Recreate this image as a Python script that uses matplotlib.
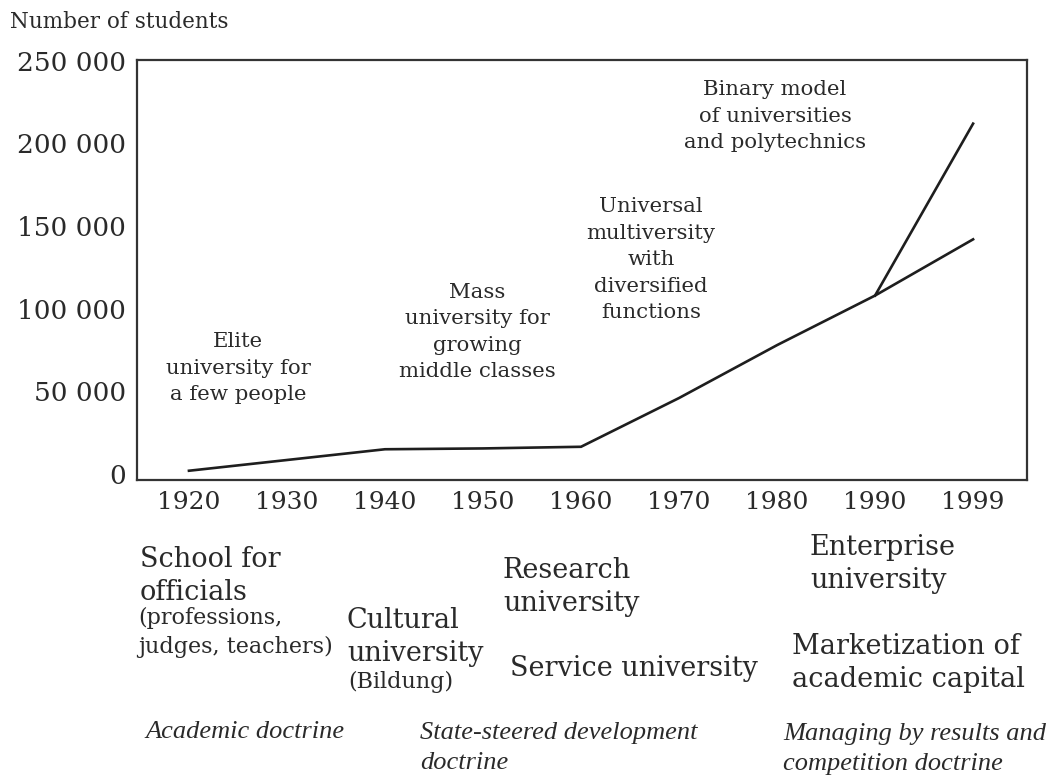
import matplotlib
matplotlib.use('Agg')
from matplotlib import pyplot as plt

plt.rcParams['font.family'] = 'DejaVu Serif'

# data
years = ['1920', '1930', '1940', '1950', '1960', '1970', '1980', '1990', '1999']
students = [2000, 8500, 15000, 15500, 16500, 46000, 78000, 108000, 142000]
binary_years = ['1990', '1999']
binary_students = [108000, 212000]
y_ticks = [0, 50000, 100000, 150000, 200000, 250000]
y_labels = ['0', '50 000', '100 000', '150 000', '200 000', '250 000']

phase_labels = [
    'Elite\nuniversity for\na few people',
    'Mass\nuniversity for\ngrowing\nmiddle classes',
    'Universal\nmultiversity\nwith\ndiversified\nfunctions',
    'Binary model\nof universities\nand polytechnics',
]

W, H = 1054, 776
INK = '#2a2a2a'


def px(x, y):
    return x / W, 1 - y / H


def draw():
    fig = plt.figure(figsize=(W / 100, H / 100), dpi=100)
    ax = fig.add_axes([137 / W, 1 - 480 / H, 890 / W, 420 / H])

    pos = list(range(len(years)))
    ax.plot(pos, students, color='#1e1e1e', lw=1.9, solid_joinstyle='miter')
    bpos = [years.index(y) for y in binary_years]
    ax.plot(bpos, binary_students, color='#1e1e1e', lw=1.9)

    ax.set_xlim(-0.53, 8.55)
    ax.set_ylim(-3600, 250500)
    ax.set_xticks(pos)
    ax.set_xticklabels(years)
    ax.set_yticks(y_ticks)
    ax.set_yticklabels(y_labels)
    ax.tick_params(length=0, labelsize=18, colors=INK)
    ax.tick_params(axis='y', pad=8, labelsize=19)
    ax.tick_params(axis='x', pad=8)
    for s in ax.spines.values():
        s.set_linewidth(1.6)
        s.set_color('#333333')

    fig.text(*px(10, 22), 'Number of students', fontsize=15.5, color=INK,
             ha='left', va='center')

    # phase captions inside the plot
    centers = [(238, 368), (477, 332), (651, 260), (775, 116)]
    for (cx, cy), txt in zip(centers, phase_labels):
        fig.text(*px(cx, cy), txt, fontsize=15.3, color=INK, ha='center',
                 va='center', linespacing=1.5)

    big = 19.5
    small = 16
    items = [
        (140, 576, 'School for\nofficials', big, 1.3),
        (138, 632, '(professions,\njudges, teachers)', small, 1.4),
        (347, 637, 'Cultural\nuniversity', big, 1.3),
        (348, 682, '(Bildung)', small, 1.3),
        (503, 587, 'Research\nuniversity', big, 1.3),
        (510, 668, 'Service university', big, 1.3),
        (810, 564, 'Enterprise\nuniversity', big, 1.3),
        (792, 663, 'Marketization of\nacademic capital', big, 1.3),
    ]
    for x, y, txt, fs, ls in items:
        fig.text(*px(x, y), txt, fontsize=fs, color=INK, ha='left',
                 va='center', linespacing=ls)

    doctrines = [
        (145, 732, 'Academic doctrine'),
        (420, 748, 'State-steered development\ndoctrine'),
        (783, 749, 'Managing by results and\ncompetition doctrine'),
    ]
    for x, y, txt in doctrines:
        fig.text(*px(x, y), txt, fontsize=19, color=INK, ha='left',
                 va='center', style='italic', family='Liberation Serif',
                 linespacing=1.45)

    fig.savefig('out.png', dpi=100)


if __name__ == '__main__':
    draw()
